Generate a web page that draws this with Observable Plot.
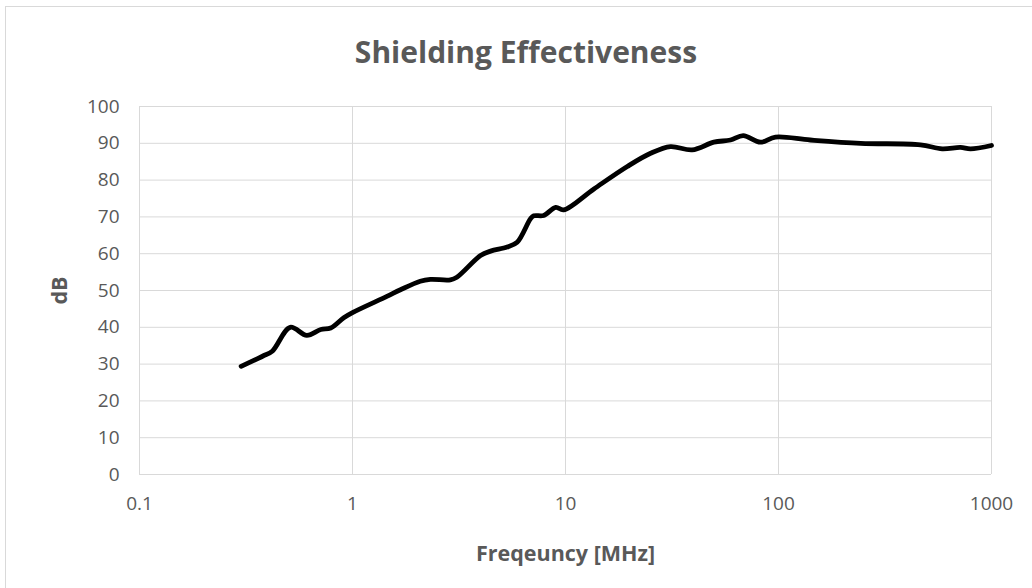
<!DOCTYPE html>
<html>
<head>
<meta charset="utf-8">
<script src="https://cdn.jsdelivr.net/npm/d3@7"></script>
<script src="https://cdn.jsdelivr.net/npm/@observablehq/plot@0.6"></script>
<style>
  html, body { margin: 0; padding: 0; background: #fff; }
  #wrap { position: relative; width: 1032px; height: 588px; overflow: hidden; }
  #frame { position: absolute; left: 5px; top: 6px; width: 1100px; height: 700px;
           border-left: 1px solid #d9d9d9; border-top: 1px solid #d9d9d9; }
  #title { position: absolute; left: 0; width: 1052px; top: 31px; text-align: center;
           font-family: "Open Sans", sans-serif; font-weight: 700; font-size: 30px; color: #595959; }
  #chart { position: absolute; left: 0; top: 0; }
  #chart [aria-label="x-axis label"] text, #chart [aria-label="y-axis label"] text { font-weight: 700; font-size: 21.5px; }
</style>
</head>
<body>
<div id="wrap">
  <div id="frame"></div>
  <div id="chart"></div>
  <div id="title">Shielding Effectiveness</div>
</div>
<script>
const freqMHz = [0.30, 0.38, 0.42, 0.51, 0.61, 0.71, 0.79, 0.91, 1.0, 1.45, 1.68, 2.08, 2.32, 2.88, 3.09, 3.99, 4.45, 5.32, 5.93, 6.85, 7.1, 7.9, 9.0, 9.8, 13.6, 19.5, 25.1, 31.1, 39.3, 49.7, 59.5, 68.3, 82.3, 96.8, 141, 243, 464, 587, 715, 797, 1000];
const shieldingDB = [29.4, 32.2, 33.5, 40.0, 37.8, 39.4, 39.8, 42.6, 44.0, 48.4, 50.2, 52.5, 53.0, 52.9, 53.6, 59.5, 60.7, 61.8, 63.1, 69.5, 70.3, 70.4, 72.6, 71.9, 77.6, 83.7, 87.3, 89.1, 88.2, 90.3, 90.9, 92.1, 90.3, 91.7, 90.9, 90.0, 89.6, 88.5, 88.9, 88.5, 89.4];
const xTicks = [0.1, 1, 10, 100, 1000];
const yTicks = [0, 10, 20, 30, 40, 50, 60, 70, 80, 90, 100];

const data = freqMHz.map((f, i) => ({f, db: shieldingDB[i]}));

const chart = Plot.plot({
  width: 1032,
  height: 588,
  marginTop: 106,
  marginBottom: 114,
  marginLeft: 139,
  marginRight: 41,
  style: {fontFamily: "'Open Sans', sans-serif", color: "#595959", background: "transparent"},
  x: {type: "log", domain: [0.1, 1000]},
  y: {domain: [0, 100]},
  marks: [
    Plot.ruleY(yTicks, {stroke: "#d9d9d9", strokeWidth: 1}),
    Plot.ruleX(xTicks, {stroke: "#d9d9d9", strokeWidth: 1}),
    Plot.axisX({ticks: xTicks, tickSize: 0, tickPadding: 22, fontSize: 19,
      tickFormat: d => String(d), label: "Freqeuncy [MHz]", labelAnchor: "center", labelArrow: "none", labelOffset: 86}),
    Plot.axisY({ticks: yTicks, tickSize: 0, tickPadding: 20, fontSize: 19,
      tickFormat: d => String(d), label: "dB", labelAnchor: "center", labelArrow: "none", labelOffset: 88}),
    Plot.line(data, {x: "f", y: "db", curve: "catmull-rom", stroke: "#000", strokeWidth: 4.8, strokeLinecap: "round", strokeLinejoin: "round"})
  ]
});
document.getElementById("chart").appendChild(chart);
</script>
</body>
</html>
